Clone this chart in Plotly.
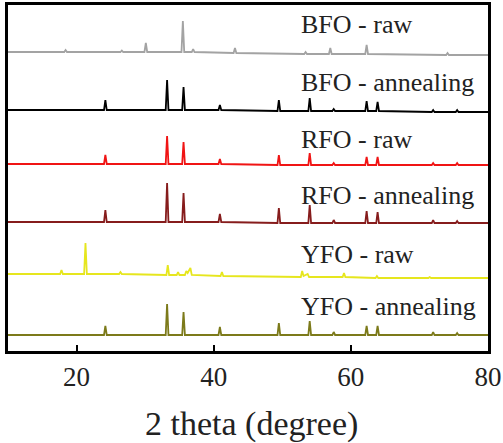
import plotly.graph_objects as go

# ---- data (y values include the stacking offset) ----
series_names = ["BFO - raw", "BFO - annealing", "RFO - raw",
                "RFO - annealing", "YFO - raw", "YFO - annealing"]

bfo_raw_x = [10, 18.2, 18.4, 18.6, 26.4, 26.6, 26.8, 29.9, 30.1, 30.3,
             35.3, 35.5, 35.7, 36.8, 37.0, 37.2, 42.9, 43.1, 43.3,
             53.2, 53.4, 53.6, 56.8, 57.0, 57.2, 62.1, 62.3, 62.5,
             73.9, 74.1, 74.3, 80]
bfo_raw_y = [299, 299, 301, 299, 299, 300.5, 299, 299, 308, 299,
             299, 330, 299, 299, 302, 299, 298, 303, 298,
             297, 299, 297, 297, 303, 297, 297, 306, 297,
             296, 298, 296, 296]

bfo_ann_x = [10, 24.0, 24.2, 24.4, 33.0, 33.2, 33.4, 35.4, 35.6, 35.8,
             40.7, 40.9, 41.1, 49.3, 49.5, 49.7, 53.8, 54.0, 54.2,
             57.3, 57.5, 57.7, 62.1, 62.3, 62.5, 63.7, 63.9, 64.1,
             71.8, 72.0, 72.2, 75.3, 75.5, 75.7, 80]
bfo_ann_y = [241, 241, 251, 241, 241, 271, 241, 241, 264, 241,
             241, 246, 241, 240, 251, 240, 240, 253, 240,
             240, 242, 240, 240, 250, 240, 240, 249, 240,
             239, 241, 239, 239, 241, 239, 239]

rfo_raw_x = [10, 24.0, 24.2, 24.4, 33.0, 33.2, 33.4, 35.4, 35.6, 35.8,
             40.7, 40.9, 41.1, 49.3, 49.5, 49.7, 53.8, 54.0, 54.2,
             57.3, 57.5, 57.7, 62.1, 62.3, 62.5, 63.7, 63.9, 64.1,
             71.8, 72.0, 72.2, 75.3, 75.5, 75.7, 80]
rfo_raw_y = [187, 187, 196, 187, 187, 215, 187, 187, 209, 187,
             187, 192, 187, 186, 196, 186, 186, 198, 186,
             186, 188, 186, 186, 194, 186, 186, 194, 186,
             186, 188, 186, 186, 188, 186, 186]

rfo_ann_x = [10, 24.0, 24.2, 24.4, 33.0, 33.2, 33.4, 35.4, 35.6, 35.8,
             40.7, 40.9, 41.1, 49.3, 49.5, 49.7, 53.8, 54.0, 54.2,
             57.3, 57.5, 57.7, 62.1, 62.3, 62.5, 63.7, 63.9, 64.1,
             71.8, 72.0, 72.2, 75.3, 75.5, 75.7, 80]
rfo_ann_y = [129, 129, 141, 129, 129, 168, 129, 129, 158, 129,
             129, 137, 129, 128, 143, 128, 128, 146, 128,
             128, 131, 128, 128, 140, 128, 128, 139, 128,
             128, 131, 128, 128, 130, 128, 128]

yfo_raw_x = [10, 17.6, 17.8, 18.0, 21.1, 21.3, 21.5, 26.2, 26.4, 26.6,
             33.1, 33.3, 33.5, 34.6, 34.8, 35.0, 35.8, 36.0, 36.2, 36.6, 36.8,
             41.0, 41.2, 41.4, 52.7, 52.9, 53.1, 53.7, 53.9,
             58.8, 59.0, 59.2, 63.6, 63.8, 64.0, 71.3, 71.5, 71.7, 80]
yfo_raw_y = [77, 77, 81, 77, 77, 108, 77, 77, 79, 77,
             76, 86, 76, 76, 79, 76, 76, 80, 78, 83, 76,
             75, 79, 75, 74, 80, 75, 77, 74,
             74, 78, 74, 73, 75, 73, 73, 74, 73, 73]

yfo_ann_x = [10, 24.0, 24.2, 24.4, 33.0, 33.2, 33.4, 35.4, 35.6, 35.8,
             40.7, 40.9, 41.1, 49.3, 49.5, 49.7, 53.8, 54.0, 54.2,
             57.3, 57.5, 57.7, 62.1, 62.3, 62.5, 63.7, 63.9, 64.1,
             71.8, 72.0, 72.2, 75.3, 75.5, 75.7, 80]
yfo_ann_y = [16, 16, 25, 16, 16, 47, 16, 16, 39, 16,
             16, 24, 16, 16, 28, 16, 16, 30, 16,
             16, 19, 16, 16, 25, 16, 16, 25, 16,
             16, 19, 16, 16, 18, 16, 16]

tick_vals = [20, 40, 60, 80]
tick_text = ["20", "40", "60", "80"]
x_title = "2 theta (degree)"

xs = [bfo_raw_x, bfo_ann_x, rfo_raw_x, rfo_ann_x, yfo_raw_x, yfo_ann_x]
ys = [bfo_raw_y, bfo_ann_y, rfo_raw_y, rfo_ann_y, yfo_raw_y, yfo_ann_y]

# ---- styles ----
colors = ["#a3a3a3", "#000000", "#f01414", "#861c1c", "#e6e61e", "#7c7a1a"]
label_y = [327, 269, 212, 156, 97, 45]
FONT = "Liberation Serif, Times New Roman, serif"
TXT = "#222222"

fig = go.Figure()
for name, x, y, c in zip(series_names, xs, ys, colors):
    fig.add_trace(go.Scatter(x=x, y=y, mode="lines", name=name,
                             line=dict(color=c, width=1.8)))

for name, ly in zip(series_names, label_y):
    fig.add_annotation(x=0.606, xref="paper", y=ly, yref="y", text=name,
                       showarrow=False, xanchor="left", yanchor="middle",
                       font=dict(family=FONT, size=26, color=TXT))

fig.add_annotation(x=0.508, xref="paper", y=-0.21, yref="paper",
                   text=x_title, showarrow=False,
                   xanchor="center", yanchor="middle",
                   font=dict(family=FONT, size=34, color=TXT))

fig.update_layout(
    width=503, height=443,
    margin=dict(l=8, r=15, t=5, b=92, autoexpand=False),
    paper_bgcolor="white", plot_bgcolor="white",
    showlegend=False,
    font=dict(family=FONT, color=TXT),
)
fig.update_xaxes(range=[10, 80], tickvals=tick_vals, ticktext=tick_text,
                 ticks="inside", ticklen=6, tickwidth=2, tickcolor="black",
                 showline=True, linecolor="black", linewidth=3, mirror=True,
                 showgrid=False, zeroline=False, automargin=False,
                 tickfont=dict(family=FONT, size=27, color=TXT))
fig.update_yaxes(range=[0, 346], showticklabels=False, ticks="",
                 showline=True, linecolor="black", linewidth=3, mirror=True,
                 showgrid=False, zeroline=False, automargin=False)

fig.write_html("out.html", config={"displayModeBar": False},
               post_script="document.body.style.margin='0';"
                           "document.body.style.overflow='hidden';")
